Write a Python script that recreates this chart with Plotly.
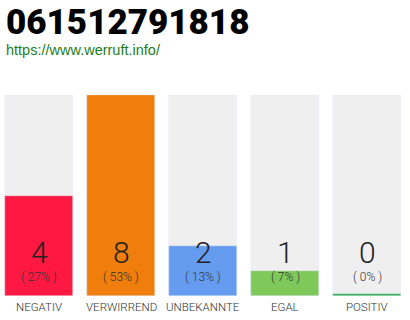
import plotly.graph_objects as go

categories = ["NEGATIV", "VERWIRREND", "UNBEKANNTE", "EGAL", "POSITIV"]
counts = [4, 8, 2, 1, 0]
colors = ["#ff1842", "#f07e0c", "#659cf0", "#7ec95a", "#22a84a"]
title_text = "061512791818"
link_text = "https://www.werruft.info/"

total = sum(counts)
ymax = max(counts)
x = list(range(len(categories)))

fig = go.Figure()
# grey track behind each bar
fig.add_trace(go.Bar(x=x, y=[ymax] * len(x), marker_color="#efefef",
                     width=0.83, hoverinfo="skip", showlegend=False))
# value bars (zero values still show a thin baseline)
fig.add_trace(go.Bar(x=x, y=[c if c > 0 else ymax * 0.012 for c in counts],
                     marker_color=colors, width=0.83, showlegend=False))

ann = []
font_fam = "Roboto, sans-serif"
for i, (cat, c) in enumerate(zip(categories, counts)):
    pct = round(100 * c / total) if total else 0
    ann.append(dict(x=i, y=1.75, xref="x", yref="y", text=str(c), showarrow=False,
                    font=dict(family=font_fam, size=30, color="#222", weight=300),
                    yanchor="middle"))
    ann.append(dict(x=i, y=0.76, xref="x", yref="y", text=f"( {pct}% )", showarrow=False,
                    font=dict(family=font_fam, size=12, color="#333", weight=300),
                    yanchor="middle"))
    ann.append(dict(x=i, y=-0.055, xref="x", yref="paper", text=cat, showarrow=False,
                    font=dict(family=font_fam, size=11.5, color="#333", weight=300),
                    yanchor="middle"))

ann.append(dict(x=0.012, y=295 / 201, xref="paper", yref="paper", text=title_text,
                showarrow=False, xanchor="left", yanchor="top", borderpad=0,
                font=dict(family=font_fam, size=35, color="#000", weight=900)))
ann.append(dict(x=0.012, y=1.222, xref="paper", yref="paper", text=link_text,
                showarrow=False, xanchor="left", yanchor="middle", borderpad=0,
                font=dict(family="Liberation Sans, Arial, sans-serif", size=14.5,
                          color="#1c7d1c")))

fig.update_layout(
    width=410, height=320, margin=dict(l=0, r=0, t=95, b=24),
    barmode="overlay", bargap=0, plot_bgcolor="white", paper_bgcolor="white",
    xaxis=dict(range=[-39 / 82, (410 - 39) / 82], visible=False, fixedrange=True),
    yaxis=dict(range=[0, ymax], visible=False, fixedrange=True),
    annotations=ann,
)
fig.write_html("out.html", config={"displayModeBar": False})
